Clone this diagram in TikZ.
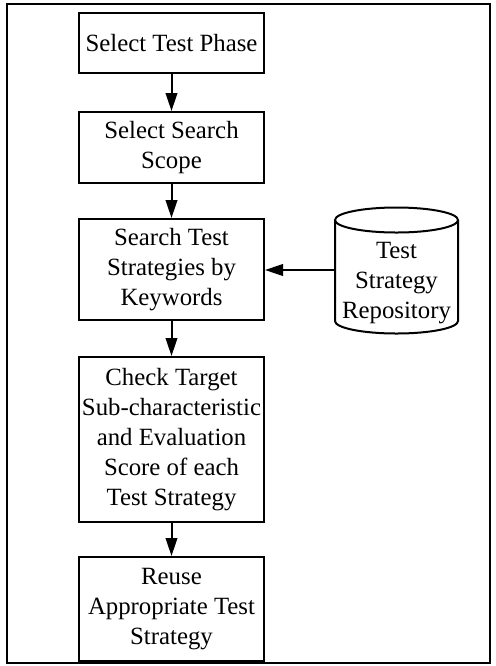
\documentclass[tikz,border=0pt]{standalone}
\usepackage{fontspec}
\setmainfont{Liberation Serif}
\usetikzlibrary{arrows.meta,calc}

\tikzset{
  stepbox/.style={draw,line width=1pt,minimum width=92.5pt,inner sep=0pt,align=center,
    font=\fontsize{12.4}{15}\selectfont},
  flow/.style={line width=1pt,-{Triangle[length=9pt,width=5.8pt]}}
}

\begin{document}
\begin{tikzpicture}[x=0.5pt,y=0.5pt]

			\useasboundingbox (0,0) rectangle (495,-666);
			\draw[line width=1pt] (7,-4) rectangle (490,-663);

			\node[stepbox,minimum height=30pt] (phase) at (171.5,-43) {Select Test Phase};
			\node[stepbox,minimum height=35.5pt] (scope) at (171.5,-147.5) {Select Search\\Scope};
			\node[stepbox,minimum height=50.5pt] (search) at (171.5,-269.5) {Search Test\\Strategies by\\Keywords};
			\node[stepbox,minimum height=82.5pt] (check) at (171.5,-439.5) {Check Target\\Sub-characteristic\\and Evaluation\\Score of each\\Test Strategy};
			\node[stepbox,minimum height=52pt] (reuse) at (171.5,-609) {Reuse\\Appropriate Test\\Strategy};

			% repository cylinder
			\coordinate (top) at (396.5,-220);
			\draw[line width=1pt] (335,-220) -- (335,-321)
				arc[start angle=180,end angle=360,x radius=61.5,y radius=12.5] -- (458,-220);
			\draw[line width=1pt] (top) ellipse[x radius=61.5,y radius=12.5];
			\node[align=center,inner sep=0pt,minimum width=61.5pt,font=\fontsize{12.4}{15}\selectfont]
				(repo) at (396.5,-283) {Test\\Strategy\\Repository};
			\coordinate (repoin) at (335,-270);

			\draw[flow] (phase) -- (scope);
			\draw[flow] (scope) -- (search);
			\draw[flow] (search) -- (check);
			\draw[flow] (check) -- (reuse);
			\draw[flow] (repoin) -- (search.east |- repoin);

		\end{tikzpicture}
\end{document}
